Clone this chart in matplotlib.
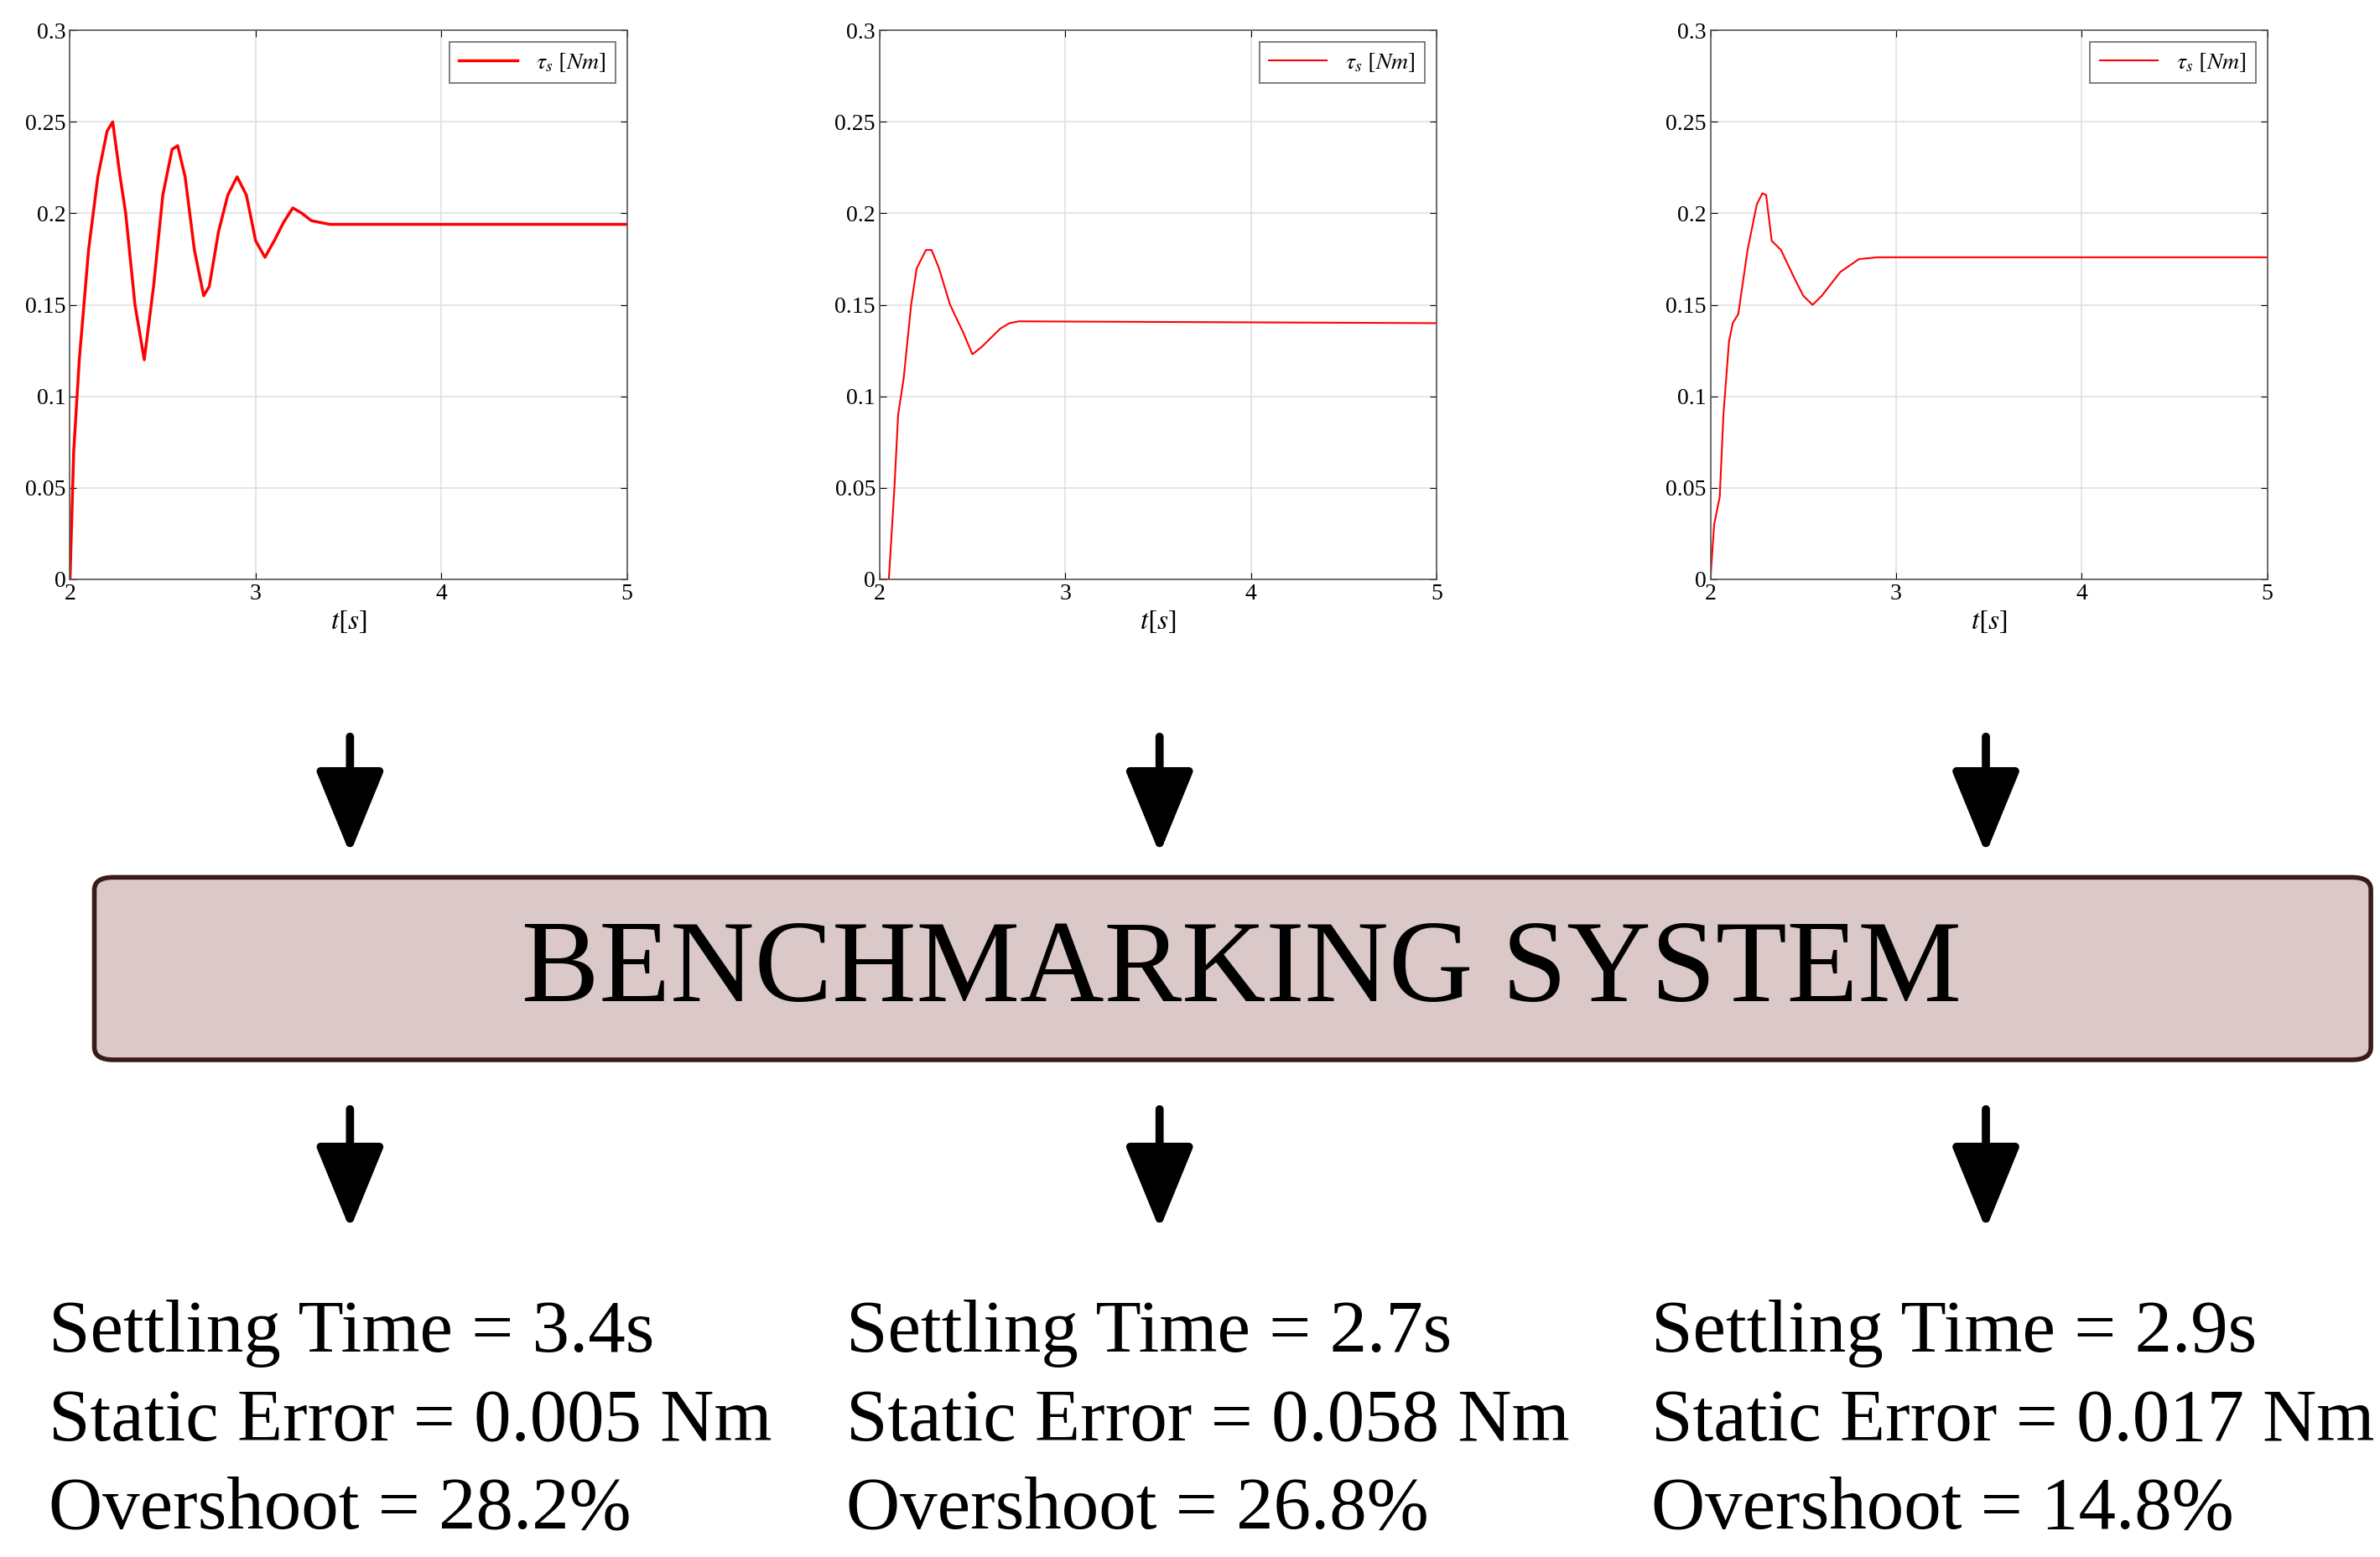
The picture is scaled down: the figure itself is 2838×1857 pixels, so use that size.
import matplotlib
matplotlib.use("Agg")
import matplotlib.pyplot as plt
from matplotlib.patches import FancyBboxPatch

plt.rcParams['font.family'] = ['Liberation Serif', 'DejaVu Serif']
plt.rcParams['mathtext.fontset'] = 'stix'

t1 = [2, 2.02, 2.05, 2.1, 2.15, 2.2, 2.23, 2.27, 2.3, 2.35, 2.4, 2.45, 2.5, 2.55, 2.58, 2.62, 2.67, 2.72, 2.75, 2.8, 2.85, 2.9, 2.95, 3.0, 3.05, 3.1, 3.15, 3.2, 3.25, 3.3, 3.4, 5]
y1 = [0, 0.07, 0.12, 0.18, 0.22, 0.245, 0.25, 0.22, 0.2, 0.15, 0.12, 0.16, 0.21, 0.235, 0.237, 0.22, 0.18, 0.155, 0.16, 0.19, 0.21, 0.22, 0.21, 0.185, 0.176, 0.185, 0.195, 0.203, 0.2, 0.196, 0.194, 0.194]
t2 = [2, 2.05, 2.08, 2.1, 2.13, 2.17, 2.2, 2.25, 2.28, 2.32, 2.38, 2.45, 2.5, 2.55, 2.6, 2.65, 2.7, 2.75, 5]
y2 = [0, 0, 0.05, 0.09, 0.11, 0.15, 0.17, 0.18, 0.18, 0.17, 0.15, 0.135, 0.123, 0.127, 0.132, 0.137, 0.14, 0.141, 0.14]
t3 = [2, 2.02, 2.05, 2.07, 2.1, 2.12, 2.15, 2.2, 2.25, 2.28, 2.3, 2.33, 2.38, 2.45, 2.5, 2.55, 2.6, 2.7, 2.8, 2.9, 5]
y3 = [0, 0.03, 0.045, 0.09, 0.13, 0.14, 0.145, 0.18, 0.205, 0.211, 0.21, 0.185, 0.18, 0.165, 0.155, 0.15, 0.155, 0.168, 0.175, 0.176, 0.176]
series = [(t1, y1, 2.5), (t2, y2, 1.5), (t3, y3, 1.5)]
xticks = [2, 3, 4, 5]
yticks = [0, 0.05, 0.1, 0.15, 0.2, 0.25, 0.3]
ytick_labels = ["0", "0.05", "0.1", "0.15", "0.2", "0.25", "0.3"]
settling = ["3.4s", "2.7s", "2.9s"]
static_err = ["0.005 Nm", "0.058 Nm", "0.017 Nm"]
overshoot = ["28.2%", "26.8%", "14.8%"]

W, H = 1564, 1024
fig = plt.figure(figsize=(28.38, 18.57), dpi=100)
lefts = [46, 578, 1124]
for (t, y, lw), L in zip(series, lefts):
    ax = fig.add_axes([L / W, 1 - 381 / H, 366 / W, 361 / H])
    ax.plot(t, y, color='red', lw=lw, label=r'$\tau_s\ [Nm]$')
    ax.set_xlim(2, 5); ax.set_ylim(0, 0.3)
    ax.set_xticks(xticks); ax.set_yticks(yticks)
    ax.set_yticklabels(ytick_labels)
    ax.grid(True, color='#e0e0e0', lw=1.2)
    ax.tick_params(direction='in', top=True, right=True, labelsize=20, length=6)
    for s in ax.spines.values():
        s.set_color('#555555'); s.set_linewidth(1.2)
    ax.set_xlabel(r'$t[s]$', fontsize=24)
    leg = ax.legend(loc='upper right', fontsize=20, fancybox=False, edgecolor='#444444', handlelength=2.5)
    leg.get_frame().set_linewidth(1.2)

# arrows
for x, (ya, yb) in [(x, r) for r in [(483, 563), (728, 810)] for x in (230, 762, 1305)]:
    fig.patches.append(matplotlib.patches.FancyArrowPatch(
        (x / W, 1 - ya / H), (x / W, 1 - yb / H), transform=fig.transFigure,
        arrowstyle='-|>,head_width=0.9,head_length=2.2', mutation_scale=28, lw=7, color='black'))

box = FancyBboxPatch((62 / W, 1 - 697 / H), (1558 - 62) / W, 120 / H,
                     boxstyle='round,pad=0,rounding_size=0.008', transform=fig.transFigure,
                     facecolor='#dbc8c8', edgecolor='#3a1a1a', lw=4)
fig.patches.append(box)
fig.text(816 / W, 1 - 640 / H, 'BENCHMARKING SYSTEM', ha='center', va='center', fontsize=100)

for x, s, e, o in zip([32, 556, 1085], settling, static_err, overshoot):
    for yy, txt in zip([877, 935, 993], [f"Settling Time = {s}", f"Static Error = {e}", f"Overshoot = {o}"]):
        fig.text(x / W, 1 - yy / H, txt, ha='left', va='center', fontsize=64)

fig.savefig('out.png', dpi=100)
